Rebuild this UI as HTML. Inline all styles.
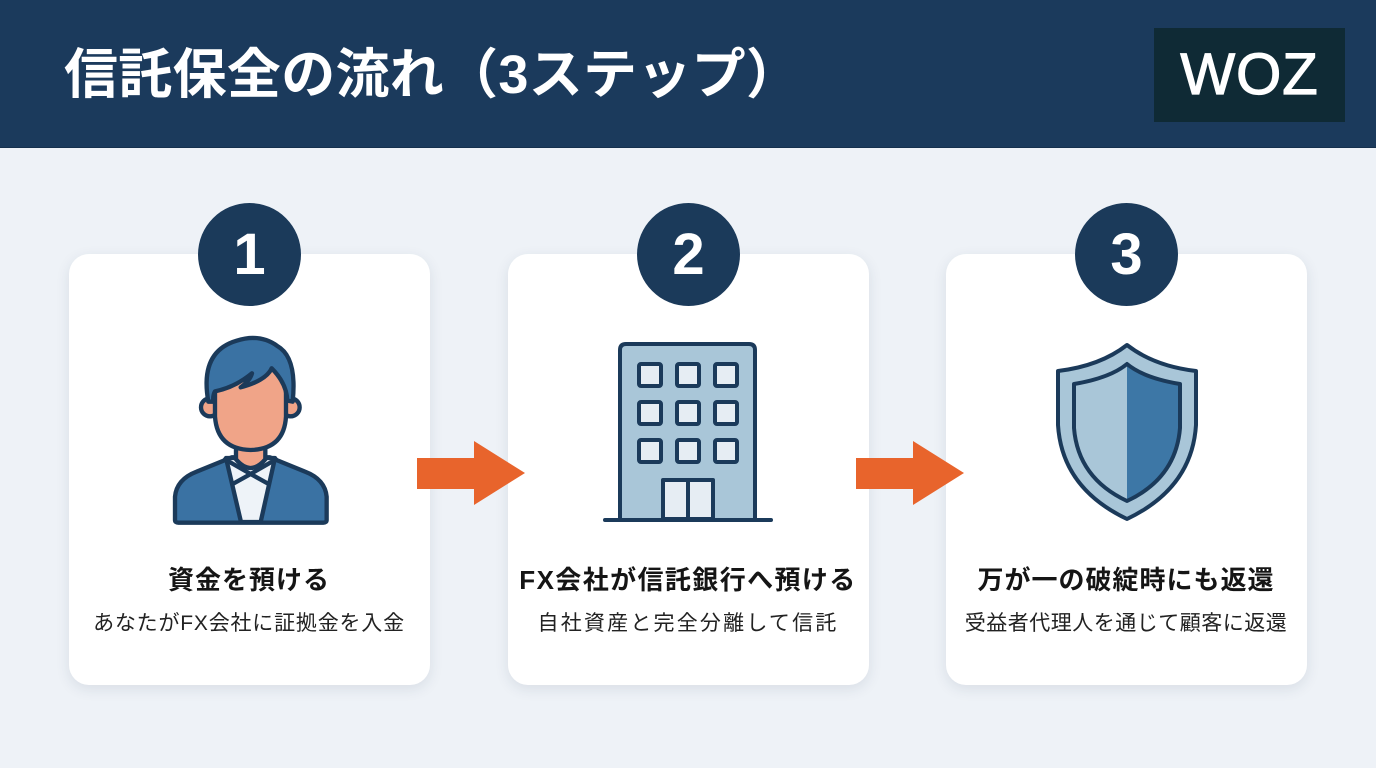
<!DOCTYPE html>
<html><head><meta charset="utf-8">
<style>
*{margin:0;padding:0;box-sizing:border-box}
body{width:1376px;height:768px;background:#eef2f7;position:relative;overflow:hidden;font-family:"Liberation Sans","Noto Sans CJK JP",sans-serif}
.hdr{position:absolute;left:0;top:0;width:1376px;height:148px;background:#1b3a5c;border-bottom:1px solid #15304d}
.title{position:absolute;left:64px;top:47px;height:56px;line-height:56px;font-size:54px;font-weight:bold;color:#fff;white-space:nowrap;letter-spacing:0.3px}
.logo{position:absolute;left:1154px;top:28px;width:191px;height:94px;background:#0f2a35;color:#fff;font-size:58px;line-height:94px;text-align:center;letter-spacing:1px;-webkit-text-stroke:1.2px #fff}
.card{position:absolute;top:254px;width:361px;height:431px;background:#fff;border-radius:20px;box-shadow:0 4px 14px rgba(30,50,80,0.10)}
.num{position:absolute;top:203px;width:103px;height:103px;border-radius:50%;background:#1b3a5a;color:#fff;font-weight:bold;font-size:58px;display:flex;align-items:center;justify-content:center}
.t1{position:absolute;width:440px;text-align:center;top:566px;line-height:28px;font-size:26px;font-weight:bold;color:#151515;letter-spacing:1px;white-space:nowrap}
.t2{position:absolute;width:440px;text-align:center;top:612px;line-height:24px;font-size:21px;color:#222;white-space:nowrap}
</style></head><body>
<div class="hdr"></div>
<div class="title">信託保全の流れ（3ステップ）</div>
<div class="logo">WOZ</div>

<div class="card" style="left:69px"></div>
<div class="card" style="left:508px"></div>
<div class="card" style="left:946px"></div>

<div class="num" style="left:198px">1</div>
<div class="num" style="left:637px">2</div>
<div class="num" style="left:1075px">3</div>

<svg width="1376" height="768" style="position:absolute;left:0;top:0" viewBox="0 0 1376 768">
  <!-- arrows -->
  <polygon points="417,458 474,458 474,441 525,473 474,505 474,489 417,489" fill="#e8642c"/>
  <polygon points="856,458 913,458 913,441 964,473 913,505 913,489 856,489" fill="#e8642c"/>

  <!-- person -->
  <g transform="translate(160,320) scale(0.3333)" stroke="#1b3a5a" stroke-width="13" stroke-linejoin="round" stroke-linecap="round">
    <path d="M45,600 L45,530 Q50,478 110,455 L215,412 L330,412 L435,455 Q495,478 500,530 L500,600 Q500,608 490,608 L55,608 Q45,608 45,600 Z" fill="#3a72a3"/>
    <path d="M198,414 L345,414 L302,606 L243,606 Z" fill="#eef3f8"/>
    <polyline points="195,418 272,462 348,418" fill="none"/>
    <polyline points="218,492 272,462 326,492" fill="none"/>
    <path d="M228,360 L228,418 Q272,470 316,418 L316,360 Z" fill="#f0a488"/>
    <circle cx="150" cy="262" r="27" fill="#f0a488"/>
    <circle cx="392" cy="262" r="27" fill="#f0a488"/>
    <path d="M165,140 L165,290 Q172,388 272,390 Q372,388 378,290 L378,140 Z" fill="#f0a488"/>
    <path d="M145,245 Q118,95 230,62 Q300,40 352,78 Q412,112 398,245 L382,242 Q380,190 335,145 Q318,182 242,202 Q270,182 276,160 Q225,202 165,214 Q158,226 160,245 Z" fill="#3a72a3"/>
  </g>

  <!-- building -->
  <g stroke="#1b3a5a" stroke-width="4" stroke-linejoin="round">
    <path d="M620,518 L620,350 Q620,344 626,344 L749,344 Q755,344 755,350 L755,518" fill="#a9c6d8"/>
    <g fill="#e6edf3">
      <rect x="639" y="364" width="22" height="22" rx="2"/>
      <rect x="677" y="364" width="22" height="22" rx="2"/>
      <rect x="715" y="364" width="22" height="22" rx="2"/>
      <rect x="639" y="402" width="22" height="22" rx="2"/>
      <rect x="677" y="402" width="22" height="22" rx="2"/>
      <rect x="715" y="402" width="22" height="22" rx="2"/>
      <rect x="639" y="440" width="22" height="22" rx="2"/>
      <rect x="677" y="440" width="22" height="22" rx="2"/>
      <rect x="715" y="440" width="22" height="22" rx="2"/>
      <rect x="663" y="480" width="50" height="39"/>
    </g>
    <line x1="688" y1="480" x2="688" y2="519"/>
    <line x1="605" y1="520" x2="771" y2="520" stroke-linecap="round"/>
  </g>

  <!-- shield -->
  <g stroke="#1b3a5a" stroke-width="4" stroke-linejoin="round">
    <path d="M1127,345 Q1100,366 1058,371 L1058,425 Q1062,488 1127,519 Q1192,488 1196,425 L1196,371 Q1154,366 1127,345 Z" fill="#a9c6d8"/>
    <path d="M1127,364 Q1110,378 1074,384 L1074,428 Q1078,478 1127,501 L1127,364 Z" fill="#a9c6d8" stroke="none"/>
    <path d="M1127,364 Q1144,378 1180,384 L1180,428 Q1176,478 1127,501 L1127,364 Z" fill="#3d77a6" stroke="none"/>
    <path d="M1127,364 Q1110,378 1074,384 L1074,428 Q1078,478 1127,501 Q1176,478 1180,428 L1180,384 Q1144,378 1127,364 Z" fill="none"/>
  </g>
</svg>

<div class="t1" style="left:29px">資金を預ける</div>
<div class="t2" style="left:29px;letter-spacing:0.8px">あなたがFX会社に証拠金を入金</div>

<div class="t1" style="left:468px;letter-spacing:1.4px">FX会社が信託銀行へ預ける</div>
<div class="t2" style="left:468px;letter-spacing:2.2px">自社資産と完全分離して信託</div>

<div class="t1" style="left:906px">万が一の破綻時にも返還</div>
<div class="t2" style="left:906px;letter-spacing:0.5px">受益者代理人を通じて顧客に返還</div>
</body></html>
